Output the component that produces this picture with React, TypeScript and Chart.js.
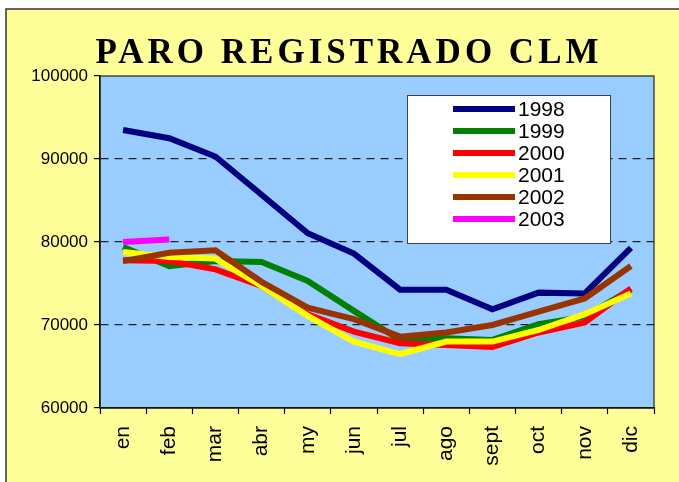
import React, { useEffect, useRef } from "react";
import { Chart, registerables } from "chart.js";

Chart.register(...registerables);

const months = ["en", "feb", "mar", "abr", "my", "jun", "jul", "ago", "sept", "oct", "nov", "dic"];
const years = ["1998", "1999", "2000", "2001", "2002", "2003"];
const v1998 = [93500, 92500, 90300, 85700, 81050, 78600, 74250, 74250, 71900, 73900, 73800, 79300];
const v1999 = [79400, 77100, 77700, 77600, 75300, 71700, 68200, 68400, 68200, 70100, 71000, 74300];
const v2000 = [77800, 77700, 76700, 74700, 71300, 69200, 67800, 67600, 67350, 69100, 70300, 74400];
const v2001 = [78800, 78200, 78000, 74700, 71100, 68000, 66500, 68000, 68000, 69400, 71300, 73800];
const v2002 = [77700, 78700, 79000, 75200, 72100, 70700, 68600, 69100, 70000, 71600, 73200, 77100];
const v2003 = [80000, 80300, null, null, null, null, null, null, null, null, null, null];
const seriesColors = ["#000080", "#008000", "#FF0000", "#FFFF00", "#993300", "#FF00FF"];
const yTicks = [60000, 70000, 80000, 90000, 100000];
const dashedLevels = [70000, 80000, 90000];
const titleText = "PARO REGISTRADO CLM";

const framePlugin = {
  id: "frame",
  beforeDraw(chart: any) {
    const { ctx, chartArea, width, height } = chart;
    ctx.save();
    ctx.fillStyle = "#FFFFFF";
    ctx.fillRect(0, 0, width, height);
    ctx.fillStyle = "#FFFF99";
    ctx.fillRect(6, 9, width + 20, height + 20);
    ctx.strokeStyle = "#333333";
    ctx.lineWidth = 1.5;
    ctx.strokeRect(6, 9, width + 20, height + 20);
    ctx.fillStyle = "#99CCFF";
    ctx.fillRect(chartArea.left, chartArea.top, chartArea.right - chartArea.left, chartArea.bottom - chartArea.top);
    ctx.restore();
  },
  beforeDatasetsDraw(chart: any) {
    const { ctx, chartArea } = chart;
    ctx.save();
    ctx.strokeStyle = "#222222";
    ctx.lineWidth = 1.2;
    ctx.strokeRect(chartArea.left, chartArea.top, chartArea.right - chartArea.left, chartArea.bottom - chartArea.top);
    ctx.restore();
  },
  afterDatasetsDraw(chart: any) {
    const { ctx } = chart;
    const bx = 407, by = 95, bw = 203, bh = 148;
    ctx.save();
    ctx.fillStyle = "#FFFFFF";
    ctx.fillRect(bx, by, bw, bh);
    ctx.strokeStyle = "#404040";
    ctx.lineWidth = 1;
    ctx.strokeRect(bx + 0.5, by + 0.5, bw, bh);
    ctx.font = "21px 'Liberation Sans', Arial, sans-serif";
    ctx.textBaseline = "middle";
    ctx.textAlign = "left";
    chart.data.datasets.forEach((ds: any, i: number) => {
      const y = 109 + i * 22;
      ctx.strokeStyle = ds.borderColor;
      ctx.lineWidth = 6;
      ctx.beginPath();
      ctx.moveTo(453, y);
      ctx.lineTo(515, y);
      ctx.stroke();
      ctx.fillStyle = "#000000";
      ctx.fillText(ds.label, 518, y + 1);
    });
    ctx.restore();
  },
  afterDraw(chart: any) {
    const { ctx } = chart;
    ctx.save();
    ctx.font = "bold 35px 'Liberation Serif', 'Times New Roman', serif";
    try {
      (ctx as any).letterSpacing = "4px";
    } catch (e) {}
    ctx.fillStyle = "#000000";
    ctx.textAlign = "left";
    ctx.textBaseline = "alphabetic";
    const w = ctx.measureText(titleText).width;
    ctx.fillText(titleText, 349 - w / 2, 63);
    ctx.restore();
  },
};

export default function App() {
  const ref = useRef<HTMLCanvasElement | null>(null);
  useEffect(() => {
    if (!ref.current) return;
    const all = [v1998, v1999, v2000, v2001, v2002, v2003];
    const chart = new Chart(ref.current, {
      type: "line",
      data: {
        labels: months,
        datasets: years.map((y, i) => ({
          label: y,
          data: all[i],
          borderColor: seriesColors[i],
          backgroundColor: seriesColors[i],
          borderWidth: 6,
          pointRadius: 0,
          pointHoverRadius: 0,
          tension: 0,
          fill: false,
          spanGaps: false,
          borderJoinStyle: "miter" as const,
          order: years.length - i,
        })),
      },
      options: {
        animation: false,
        responsive: false,
        devicePixelRatio: 1,
        layout: { padding: { top: 76, right: 25, left: 0, bottom: 0 } },
        plugins: {
          legend: { display: false },
          title: { display: false },
          tooltip: { enabled: false },
        },
        scales: {
          x: {
            type: "category",
            offset: true,
            afterFit(scale: any) {
              scale.height = 74;
            },
            grid: {
              offset: true,
              drawOnChartArea: false,
              drawTicks: true,
              tickLength: 6,
              tickColor: "#000000",
              tickWidth: 1.2,
            },
            border: { display: true, color: "#000000", width: 1.5 },
            ticks: {
              autoSkip: false,
              minRotation: 90,
              maxRotation: 90,
              padding: 12,
              color: "#000000",
              font: { family: "'Liberation Sans', Arial, sans-serif", size: 21 },
            },
          },
          y: {
            min: 60000,
            max: 100000,
            afterFit(scale: any) {
              scale.width = 100;
            },
            afterBuildTicks(scale: any) {
              scale.ticks = yTicks.map((v) => ({ value: v }));
            },
            grid: {
              color: (c: any) => (c.tick && dashedLevels.includes(c.tick.value) ? "#222222" : "rgba(0,0,0,0)"),
              lineWidth: 1.2,
              drawTicks: true,
              tickLength: 6,
              tickColor: "#000000",
              tickWidth: 1.2,
            },
            border: { display: true, color: "#000000", width: 1.5, dash: [8, 6] },
            ticks: {
              padding: 6,
              color: "#000000",
              font: { family: "'Liberation Sans', Arial, sans-serif", size: 17 },
              callback: (v: any) => String(v),
            },
          },
        },
      },
      plugins: [framePlugin],
    });
    return () => chart.destroy();
  }, []);
  return (
    <div style={{ position: "fixed", left: 0, top: 0, width: 679, height: 482 }}>
      <canvas ref={ref} width={679} height={482} style={{ display: "block" }} />
    </div>
  );
}
